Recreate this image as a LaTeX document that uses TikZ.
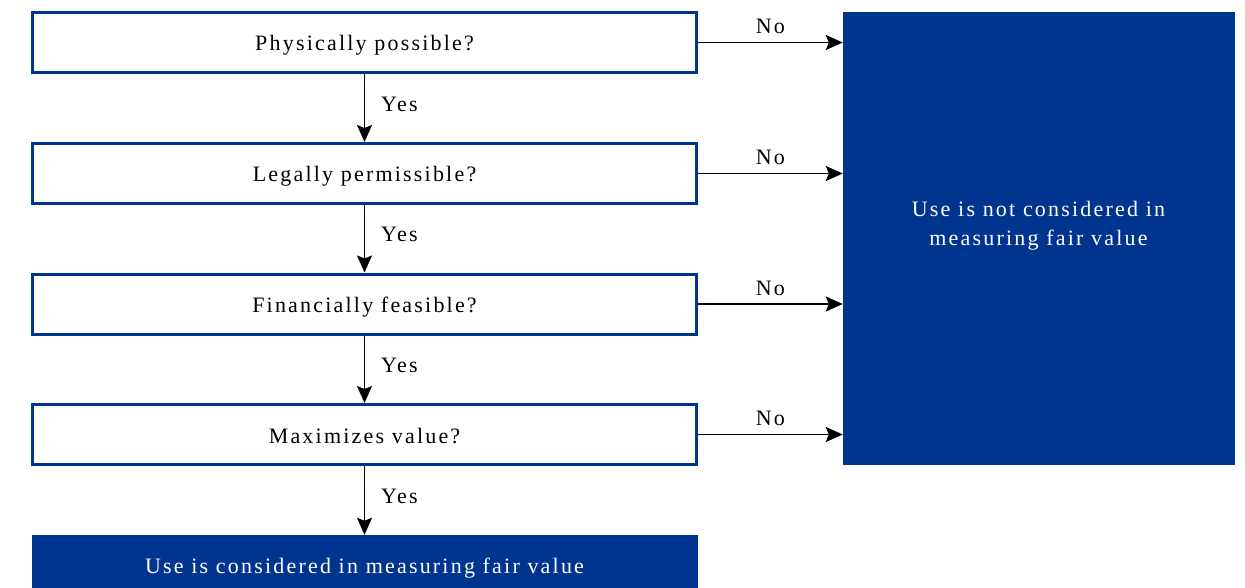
\documentclass[tikz,border=0pt]{standalone}
\usepackage{fontspec}
\setmainfont{Liberation Serif}[LetterSpace=10]
\usetikzlibrary{arrows.meta}
\definecolor{dblue}{HTML}{00358F}
\begin{document}
\begin{tikzpicture}[x=1pt,y=-1pt,
  txt/.style={font=\fontsize{22}{26}\selectfont},
  qbox/.style={txt,draw=dblue,line width=3pt,fill=white,minimum width=664pt,minimum height=60pt,inner sep=0pt,text height=18pt,text depth=1pt},
  endbox/.style={txt,fill=dblue,text=white,minimum width=666pt,minimum height=60pt,inner sep=0pt,text height=18pt,text depth=1pt},
  conn/.style={line width=1.4pt,-{Stealth[length=17pt,width=15pt,inset=3pt]}},
  lbl/.style={txt,inner sep=0pt}
]
\useasboundingbox (0,0) rectangle (1245,588);
\node[qbox] (q1) at (364.5,42.5) {Physically possible?};
\node[qbox] (q2) at (364.5,173.5) {Legally permissible?};
\node[qbox] (q3) at (364.5,304) {Financially feasible?};
\node[qbox] (q4) at (364.5,434.5) {Maximizes value?};
\node[endbox] (yes) at (364.5,565) {Use is considered in measuring fair value};
\node[fill=dblue,minimum width=392pt,minimum height=453pt,inner sep=0pt] (no) at (1039,238.5) {};
\node[lbl,text=white,align=center,font=\fontsize{22}{29}\selectfont] (notext) at (1038.5,226) {Use is not considered in\\measuring fair value};
\foreach \i in {1,2,3,4}{
  \draw[conn] (q\i.east) -- (q\i.east -| no.west) node[lbl,midway,above=8pt] {No};
}
\draw[conn] (q1.south) -- (q2.north) node[lbl,midway,right=16pt,yshift=4pt] {Yes};
\draw[conn] (q2.south) -- (q3.north) node[lbl,midway,right=16pt,yshift=4pt] {Yes};
\draw[conn] (q3.south) -- (q4.north) node[lbl,midway,right=16pt,yshift=4pt] {Yes};
\draw[conn] (q4.south) -- (yes.north) node[lbl,midway,right=16pt,yshift=4pt] {Yes};
\end{tikzpicture}
\end{document}
